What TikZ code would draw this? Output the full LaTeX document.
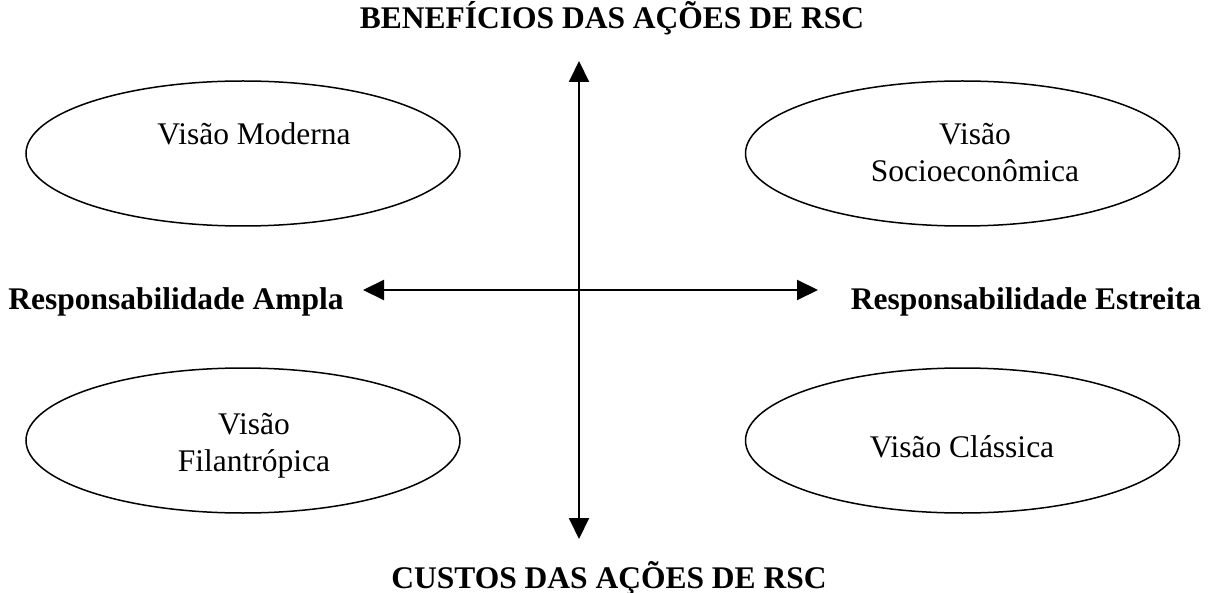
\documentclass[tikz,border=0pt]{standalone}
\usepackage{fontspec}
\setmainfont{Liberation Serif}
\usetikzlibrary{shapes.geometric,arrows.meta}
\tikzset{
  oval/.style={draw=black, line width=1.5pt, ellipse, minimum width=434pt, minimum height=145pt, inner sep=0pt},
  txt/.style={inner sep=0pt, anchor=base, font=\fontsize{31.5}{37}\selectfont},
  btxt/.style={inner sep=0pt, anchor=base, font=\fontsize{31.5}{37}\selectfont\bfseries},
  axis/.style={line width=2pt, {Triangle[width=20pt,length=21pt]}-{Triangle[width=20pt,length=21pt]}}
}
\begin{document}
\begin{tikzpicture}[x=1pt,y=-1pt]
\useasboundingbox (0,0) rectangle (1217,593);
% ellipses
\node[oval] (tl) at (243,153.5) {};
\node[oval] (tr) at (962.5,153.5) {};
\node[oval] (bl) at (243,440.5) {};
\node[oval] (br) at (962.5,440.5) {};
% ellipse texts
\node[txt] (tltext) at (254,145) {Visão Moderna};
\node[txt] (trtext) at (975,145) {\begin{tabular}[t]{@{}c@{}}Visão\\Socioeconômica\end{tabular}};
\node[txt] (bltext) at (254,434) {\begin{tabular}[t]{@{}c@{}}Visão\\Filantrópica\end{tabular}};
\node[txt] (brtext) at (962,457) {Visão Clássica};
% labels
\node[btxt] (top) at (612,29) {BENEFÍCIOS DAS AÇÕES DE RSC};
\node[btxt] (bottom) at (609,588) {CUSTOS DAS AÇÕES DE RSC};
\node[btxt] (left) at (176,309) {Responsabilidade Ampla};
\node[btxt] (right) at (1026,310) {Responsabilidade Estreita};
% axes
\coordinate (n) at (579,61);
\coordinate (s) at (579,539);
\coordinate (w) at (363,290);
\coordinate (e) at (818,290);
\draw[axis] (s) -- (n);
\draw[axis] (w) -- (e);
\end{tikzpicture}
\end{document}
